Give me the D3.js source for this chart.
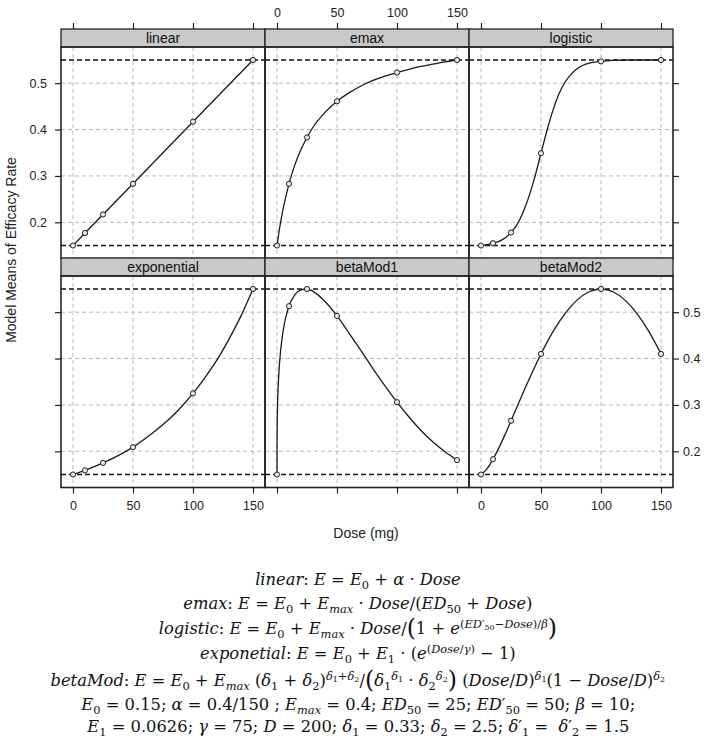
<!DOCTYPE html>
<html>
<head>
<meta charset="utf-8">
<script src="https://cdn.jsdelivr.net/npm/d3@7"></script>
<style>
  body { margin: 0; background: #fff; }
  svg text { font-family: "Liberation Sans", Arial, sans-serif; }
</style>
</head>
<body>
<div id="chart"></div>
<script>
// panels, in lattice as.table order
var models = ["linear", "emax", "logistic", "exponential", "betaMod1", "betaMod2"];

// doses where the means are marked with circles
var doses = [0, 10, 25, 50, 100, 150];
var linearMean      = [0.150, 0.177, 0.217, 0.283, 0.417, 0.550];
var emaxMean        = [0.150, 0.283, 0.383, 0.461, 0.523, 0.550];
var logisticMean    = [0.150, 0.155, 0.178, 0.349, 0.547, 0.550];
var exponentialMean = [0.150, 0.159, 0.175, 0.209, 0.325, 0.550];
var betaMod1Mean    = [0.150, 0.513, 0.550, 0.492, 0.306, 0.181];
var betaMod2Mean    = [0.150, 0.183, 0.266, 0.410, 0.550, 0.410];

// the smooth model curves
var linearCurveDose = [0, 10, 25, 50, 100, 150];
var linearCurve     = [0.150, 0.177, 0.217, 0.283, 0.417, 0.550];
var emaxCurveDose = [0, 1, 2, 5, 10, 15, 20, 25, 30, 40, 50, 60, 70, 80, 90, 100, 110, 120, 130, 140, 150];
var emaxCurve     = [0.150, 0.168, 0.185, 0.228, 0.283, 0.325, 0.357, 0.383, 0.405, 0.437, 0.461, 0.479, 0.494, 0.506, 0.515, 0.523, 0.530, 0.536, 0.541, 0.546, 0.550];
var logisticCurveDose = [0, 5, 10, 15, 20, 25, 30, 35, 40, 45, 50, 55, 60, 65, 70, 75, 80, 90, 100, 110, 125, 150];
var logisticCurve     = [0.150, 0.152, 0.155, 0.159, 0.166, 0.178, 0.195, 0.221, 0.256, 0.299, 0.349, 0.398, 0.442, 0.477, 0.502, 0.519, 0.531, 0.543, 0.547, 0.549, 0.550, 0.550];
var exponentialCurveDose = [0, 10, 25, 40, 50, 60, 70, 80, 90, 100, 110, 120, 130, 140, 150];
var exponentialCurve     = [0.150, 0.159, 0.175, 0.194, 0.209, 0.227, 0.247, 0.269, 0.295, 0.325, 0.359, 0.397, 0.442, 0.492, 0.550];
var betaMod1CurveDose = [0, 0.02, 0.1, 0.25, 0.5, 1, 2, 5, 10, 15, 20, 25, 30, 40, 50, 60, 70, 80, 90, 100, 110, 120, 130, 140, 150];
var betaMod1Curve     = [0.150, 0.203, 0.240, 0.272, 0.303, 0.340, 0.386, 0.458, 0.513, 0.538, 0.548, 0.550, 0.545, 0.523, 0.492, 0.455, 0.417, 0.378, 0.341, 0.306, 0.274, 0.245, 0.220, 0.199, 0.181];
var betaMod2CurveDose = [0, 5, 10, 15, 20, 25, 30, 40, 50, 60, 70, 80, 90, 100, 110, 120, 130, 140, 150];
var betaMod2Curve     = [0.150, 0.162, 0.183, 0.208, 0.236, 0.266, 0.296, 0.355, 0.410, 0.458, 0.497, 0.526, 0.544, 0.550, 0.544, 0.526, 0.497, 0.458, 0.410];

var refLevels = [0.15, 0.55];
var xTicks = [0, 50, 100, 150];
var yTicks = [0.2, 0.3, 0.4, 0.5];

var formulaLines = [
  "linear: E = E_{0} + α · Dose",
  "emax: E = E_{0} + E_{max} · Dose/(ED_{50} + Dose)",
  "logistic: E = E_{0} + E_{max} · Dose/[1 + e^{(ED′_{50}−Dose)/β}]",
  "exponetial: E = E_{0} + E_{1} · (e^{(Dose/γ)} − 1)",
  "betaMod: E = E_{0} + E_{max} (δ_{1} + δ_{2})^{δ_{1}+δ_{2}}/[δ_{1}^{δ_{1}} · δ_{2}^{δ_{2}}] (Dose/D)^{δ_{1}}(1 − Dose/D)^{δ_{2}}",
  "E_{0} = 0.15; α = 0.4/150 ; E_{max} = 0.4; ED_{50} = 25; ED′_{50} = 50; β = 10;",
  "E_{1} = 0.0626; γ = 75; D = 200; δ_{1} = 0.33; δ_{2} = 2.5; δ′_{1} =  δ′_{2} = 1.5"
];

var means = [linearMean, emaxMean, logisticMean, exponentialMean, betaMod1Mean, betaMod2Mean];
var curveDoses = [linearCurveDose, emaxCurveDose, logisticCurveDose, exponentialCurveDose, betaMod1CurveDose, betaMod2CurveDose];
var curves = [linearCurve, emaxCurve, logisticCurve, exponentialCurve, betaMod1Curve, betaMod2Curve];

var width = 709, height = 750;
var panelLeft = 61, panelW = 204, stripH = 18, plotH = 211.5;
var rowTop = [29, 258];

var svg = d3.select("#chart").append("svg")
    .attr("width", width)
    .attr("height", height);

var x = d3.scaleLinear().domain([-10, 160]).range([0, panelW]);
var y = d3.scaleLinear().domain([0.122, 0.578]).range([plotH, 0]);

var line = d3.line()
    .x(function(d) { return x(d[0]); })
    .y(function(d) { return y(d[1]); })
    .curve(d3.curveMonotoneX);

function styleAxis(g) {
    g.select(".domain").remove();
    g.attr("font-family", '"Liberation Sans", Arial, sans-serif')
     .attr("font-size", 12.5)
     .attr("color", "#222");
    g.selectAll(".tick line").attr("stroke-width", 1.2);
}

models.forEach(function(name, k) {
    var col = k % 3, row = Math.floor(k / 3);
    var px = panelLeft + col * panelW;
    var top = rowTop[row];
    var plotTop = top + stripH;

    var p = svg.append("g").attr("transform", "translate(" + px + "," + plotTop + ")");

    // grid
    p.selectAll(".vgrid").data(xTicks).enter().append("line")
        .attr("x1", function(d) { return x(d); })
        .attr("x2", function(d) { return x(d); })
        .attr("y1", 0).attr("y2", plotH)
        .attr("stroke", "#b8b8b8").attr("stroke-dasharray", "4,3");
    p.selectAll(".hgrid").data(yTicks).enter().append("line")
        .attr("x1", 0).attr("x2", panelW)
        .attr("y1", function(d) { return y(d); })
        .attr("y2", function(d) { return y(d); })
        .attr("stroke", "#b8b8b8").attr("stroke-dasharray", "4,3");

    // placebo and max effect
    p.selectAll(".ref").data(refLevels).enter().append("line")
        .attr("x1", 0).attr("x2", panelW)
        .attr("y1", function(d) { return y(d); })
        .attr("y2", function(d) { return y(d); })
        .attr("stroke", "#111").attr("stroke-width", 1.5)
        .attr("stroke-dasharray", "5,3");

    var curveData = curveDoses[k].map(function(d, i) { return [d, curves[k][i]]; });
    p.append("path")
        .attr("d", line(curveData))
        .attr("fill", "none")
        .attr("stroke", "#1a1a1a")
        .attr("stroke-width", 1.3);

    p.selectAll(".pt").data(doses.map(function(d, i) { return [d, means[k][i]]; }))
      .enter().append("circle")
        .attr("cx", function(d) { return x(d[0]); })
        .attr("cy", function(d) { return y(d[1]); })
        .attr("r", 2.6)
        .attr("fill", "#e6e6e6")
        .attr("stroke", "#222")
        .attr("stroke-width", 1);

    // strip
    svg.append("rect")
        .attr("x", px).attr("y", top)
        .attr("width", panelW).attr("height", stripH)
        .attr("fill", "#c9c9c9")
        .attr("stroke", "#222").attr("stroke-width", 1.3);
    svg.append("text")
        .attr("x", px + panelW / 2).attr("y", top + 14)
        .attr("text-anchor", "middle")
        .style("font-size", "14px")
        .style("fill", "#111")
        .text(name);

    // panel border
    svg.append("rect")
        .attr("x", px).attr("y", plotTop)
        .attr("width", panelW).attr("height", plotH)
        .attr("fill", "none")
        .attr("stroke", "#222").attr("stroke-width", 1.6);

    // alternating lattice axes
    if (row === 0) {
        svg.append("g")
            .attr("transform", "translate(" + px + "," + top + ")")
            .call(d3.axisTop(x).tickValues(xTicks).tickSize(6).tickPadding(6)
                .tickFormat(col === 1 ? d3.format("d") : ""))
            .call(styleAxis);
    } else {
        svg.append("g")
            .attr("transform", "translate(" + px + "," + (plotTop + plotH) + ")")
            .call(d3.axisBottom(x).tickValues(xTicks).tickSize(6).tickPadding(8)
                .tickFormat(col !== 1 ? d3.format("d") : ""))
            .call(styleAxis);
    }
    if (col === 0) {
        svg.append("g")
            .attr("transform", "translate(" + px + "," + plotTop + ")")
            .call(d3.axisLeft(y).tickValues(yTicks).tickSize(6).tickPadding(8)
                .tickFormat(row === 0 ? d3.format(".1f") : ""))
            .call(styleAxis);
    }
    if (col === 2) {
        svg.append("g")
            .attr("transform", "translate(" + (px + panelW) + "," + plotTop + ")")
            .call(d3.axisRight(y).tickValues(yTicks).tickSize(6).tickPadding(4)
                .tickFormat(row === 1 ? d3.format(".1f") : ""))
            .call(styleAxis);
    }
});

svg.append("text")
    .attr("transform", "translate(16,250) rotate(-90)")
    .attr("text-anchor", "middle")
    .style("font-size", "14px")
    .style("fill", "#222")
    .text("Model Means of Efficacy Rate");

svg.append("text")
    .attr("x", 366).attr("y", 538)
    .attr("text-anchor", "middle")
    .style("font-size", "14px")
    .style("fill", "#222")
    .text("Dose (mg)");

// ---- formulas under the plot ----
// _{..} subscript, ^{..} superscript, [ ] tall parentheses
function parseRuns(s) {
    var runs = [], i = 0, grpCount = 0;
    function walk(shift, scale, grp) {
        while (i < s.length) {
            var c = s[i];
            if (c === "}") { i++; return; }
            if ((c === "_" || c === "^") && s[i + 1] === "{") {
                i += 2;
                var start = runs.length;
                walk(shift + (c === "_" ? 0.22 : -0.38) * scale, scale * 0.7, grpCount++);
                if (runs[start]) runs[start].mark = c;
                continue;
            }
            var big = c === "[" || c === "]";
            runs.push({
                t: big ? (c === "[" ? "(" : ")") : c,
                shift: big ? shift + 0.1 : shift,
                scale: big ? scale * 1.45 : scale,
                italic: /[A-Za-z\u03b1-\u03c9]/.test(c),
                grp: grp
            });
            i++;
        }
    }
    walk(0, 1, null);
    // merge neighbours with identical look
    var out = [];
    runs.forEach(function(r) {
        var last = out[out.length - 1];
        if (last && !r.mark && last.shift === r.shift && last.scale === r.scale &&
            last.italic === r.italic && last.grp === r.grp) {
            last.t += r.t;
        } else {
            out.push(Object.assign({}, r));
        }
    });
    return out;
}

var formulaSize = 16;
var formulaBase = [585, 609, 634, 659, 686, 710, 732];
var formulaCenter = 358;
var widestLine = 615; // betaMod line width in the figure

var formulaGroups = formulaLines.map(function(str, li) {
    var g = svg.append("g");
    var text = g.append("text")
        .attr("x", 0).attr("y", 0)
        .attr("xml:space", "preserve")
        .style("white-space", "pre")
        .style("font-family", '"DejaVu Serif", "Liberation Serif", serif')
        .style("font-size", formulaSize + "px")
        .style("fill", "#111");
    var cur = 0;
    parseRuns(str).forEach(function(r) {
        text.append("tspan")
            .attr("dy", ((r.shift - cur) * formulaSize).toFixed(2))
            .style("font-size", (formulaSize * r.scale).toFixed(2) + "px")
            .style("font-style", r.italic ? "italic" : "normal")
            .text(r.t);
        cur = r.shift;
    });
    return {g: g, bb: text.node().getBBox()};
});

// one common scale so that the betaMod line has the figure's width
var f = widestLine / formulaGroups[4].bb.width;
formulaGroups.forEach(function(o, li) {
    var cx = o.bb.x + o.bb.width / 2;
    o.g.attr("transform", "translate(" + (formulaCenter - f * cx) + "," + formulaBase[li] + ") scale(" + f + ")");
});
</script>
</body>
</html>
